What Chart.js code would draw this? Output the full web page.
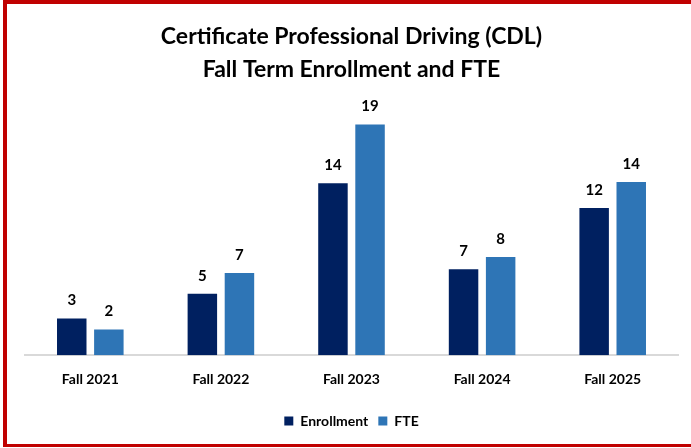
<!DOCTYPE html>
<html>
<head>
<meta charset="utf-8">
<script src="https://cdn.jsdelivr.net/npm/chart.js@4.4.0/dist/chart.umd.min.js"></script>
<style>
  html, body { margin: 0; padding: 0; background: #fff; overflow: hidden; }
  body { width: 691px; height: 448px; position: relative; }
  #frame {
    position: absolute; left: 3px; top: 0px;
    width: 698px; height: 447px;
    box-sizing: border-box;
    border: 4px solid #C00000; border-bottom-width: 3px;
    background: #fff;
  }
  #c { position: absolute; left: 0; top: 0; }
</style>
</head>
<body>
<div id="frame"><canvas id="c" width="690" height="440"></canvas></div>
<script>
const categories = ['Fall 2021', 'Fall 2022', 'Fall 2023', 'Fall 2024', 'Fall 2025'];
const enrollment = [3, 5, 14, 7, 12];
const fte = [2.1, 6.7, 18.8, 8.0, 14.1];
const titleLines = ['Certificate Professional Driving (CDL)', 'Fall Term Enrollment and FTE'];
const seriesNames = ['Enrollment', 'FTE'];

const FONT = 'Lato, Calibri, "Open Sans", sans-serif';

const valueLabels = {
  id: 'valueLabels',
  afterDatasetsDraw(chart) {
    const ctx = chart.ctx;
    ctx.save();
    ctx.font = 'bold 15px ' + FONT;
    ctx.fillStyle = '#000';
    ctx.textAlign = 'center';
    ctx.textBaseline = 'middle';
    chart.data.datasets.forEach((ds, i) => {
      const meta = chart.getDatasetMeta(i);
      meta.data.forEach((bar, j) => {
        ctx.fillText(String(Math.round(ds.data[j])), bar.x, bar.y - 18);
      });
    });
    ctx.restore();
  }
};

new Chart(document.getElementById('c'), {
  type: 'bar',
  data: {
    labels: categories,
    datasets: [
      { label: seriesNames[0], data: enrollment, backgroundColor: '#002060',
        categoryPercentage: 0.568, barPercentage: 0.795 },
      { label: seriesNames[1], data: fte, backgroundColor: '#2E75B6',
        categoryPercentage: 0.568, barPercentage: 0.795 }
    ]
  },
  options: {
    responsive: false,
    animation: false,
    devicePixelRatio: 1,
    layout: { padding: { left: 18, right: 19, top: 0, bottom: 6 } },
    plugins: {
      title: {
        display: true,
        text: titleLines,
        color: '#000',
        font: { family: FONT, size: 23, weight: 'bold', lineHeight: 1.45 },
        padding: { top: 16, bottom: 23 }
      },
      legend: {
        position: 'bottom',
        labels: {
          color: '#000',
          font: { family: FONT, size: 14, weight: 'bold' },
          boxWidth: 9, boxHeight: 9, padding: 10
        }
      },
      tooltip: { enabled: false }
    },
    scales: {
      x: {
        grid: { display: false, drawTicks: false },
        border: { display: true, color: '#D9D9D9', width: 2 },
        ticks: { color: '#000', font: { family: FONT, size: 14, weight: 'bold' }, padding: 16 }
      },
      y: {
        display: false,
        min: 0,
        max: 20
      }
    }
  },
  plugins: [valueLabels]
});
</script>
</body>
</html>
